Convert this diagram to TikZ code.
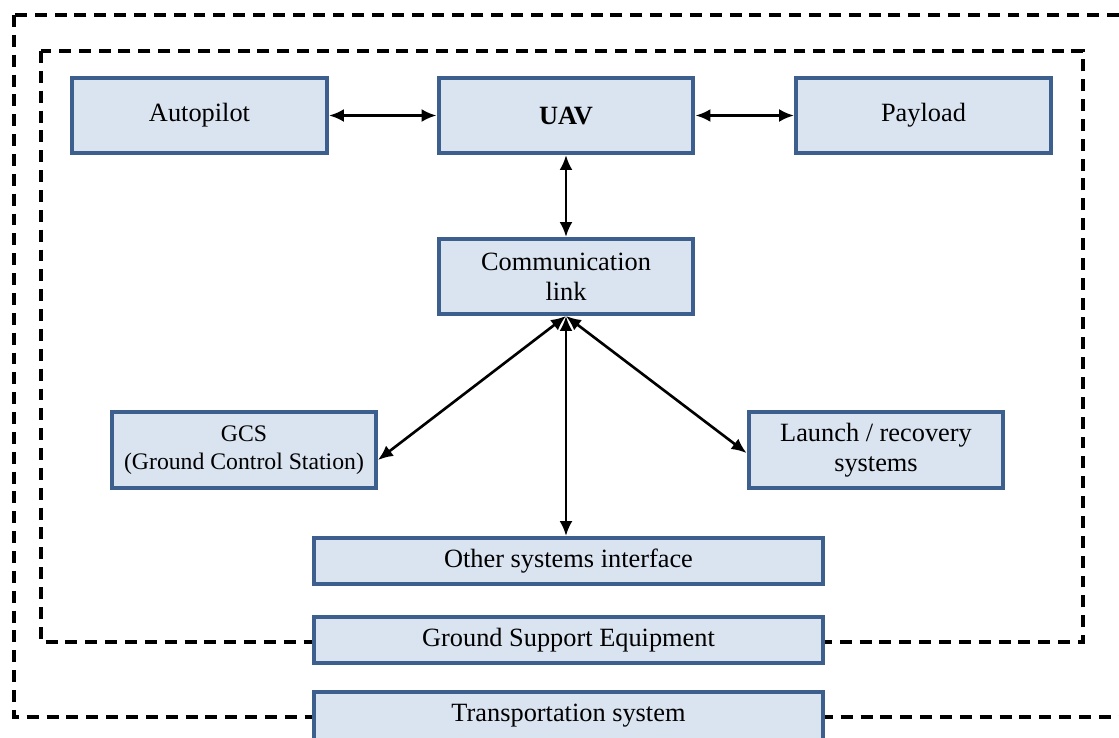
\documentclass[tikz,border=0pt]{standalone}
\usepackage{fontspec}
\setmainfont{Liberation Serif}
\usepackage{tikz}
\usetikzlibrary{positioning, arrows.meta, calc}

\definecolor{boxfill}{HTML}{DAE3F0}
\definecolor{boxline}{HTML}{3C5F8E}

\begin{document}
\begin{tikzpicture}[x=0.02cm, y=-0.02cm,
		block/.style={draw=boxline, fill=boxfill, line width=0.08cm, inner sep=2pt,
			align=center, font=\fontsize{15}{17}\selectfont},
		bigblock/.style={block, minimum width=5.1cm, minimum height=1.5cm},
		wideblock/.style={block, minimum width=10.18cm, minimum height=0.92cm},
		link/.style={{Latex[length=0.3cm,width=0.26cm]}-{Latex[length=0.3cm,width=0.26cm]}, line width=1.5pt},
		frame/.style={line width=1.8pt, dash pattern=on 6.8pt off 4.5pt}]
		
		\clip (0,0) rectangle (1119,737);
		\useasboundingbox (0,0) rectangle (1119,737);
		
		%Dashed frames
		\draw[frame] (14,15) rectangle (1135,717);
		\draw[frame] (41,51) rectangle (1083,642);
		
		%Top row
		\node (autopilot) at (199.5,115.5) [bigblock]{Autopilot};
		\node (uav) at (566,115.5) [bigblock]{\textbf{UAV}};
		\node (payload) at (923.5,115.5) [bigblock]{Payload};
		
		%Communication link
		\node (comm) at (566,276.5) [bigblock]{Communication\\link};
		
		%Ground side
		\node (gcs) at (244,450) [block, minimum width=5.28cm, minimum height=1.52cm,
			font=\fontsize{13.5}{16}\selectfont]{GCS\\(Ground Control Station)};
		\node (launch) at (876,450) [bigblock, minimum height=1.52cm]{Launch / recovery\\systems};
		
		%Bottom bars
		\node (other) at (568.5,561) [wideblock]{Other systems interface};
		\node (gse) at (568.5,640) [wideblock]{Ground Support Equipment};
		\node (transport) at (568.5,716) [wideblock, minimum height=0.96cm]{Transportation system};
		
		%Arrows
		\draw[link] (autopilot) -- (uav);
		\draw[link] (uav) -- (payload);
		\draw[link] (uav) -- (comm);
		\draw[link] (comm.south) -- ([yshift=-0.2cm]gcs.east);
		\draw[link] (comm.south) -- ([yshift=-0.06cm]launch.west);
		\draw[link] (comm.south) -- (other.north -| comm.south);
		
\end{tikzpicture}
\end{document}
